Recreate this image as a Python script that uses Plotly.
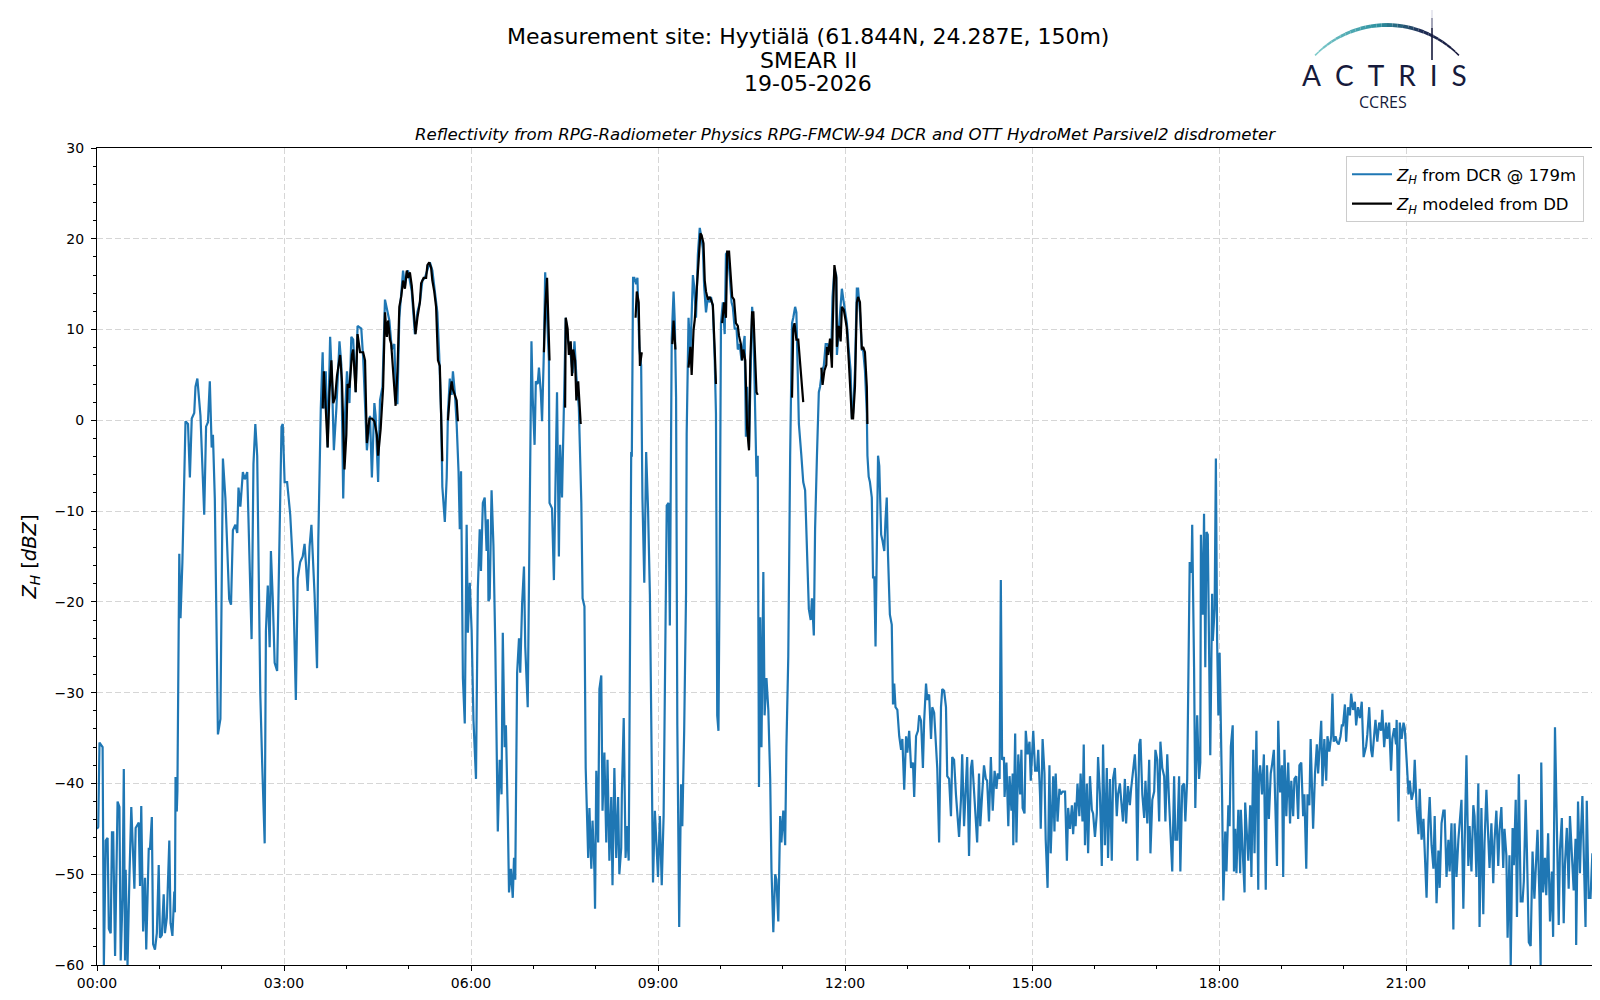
import math

import plotly.graph_objects as go

# Z_H from the cloud radar (DCR) at 179 m, hours of day vs dBZ, read per 3 h window
dcr_hours_00_03 = [
    0.00, 0.02, 0.04, 0.09, 0.11, 0.14, 0.17, 0.19, 0.22, 0.24,
    0.26, 0.29, 0.33, 0.36, 0.38, 0.41, 0.43, 0.45, 0.46, 0.49,
    0.52, 0.55, 0.60, 0.62, 0.67, 0.69, 0.71, 0.74, 0.77, 0.79,
    0.83, 0.85, 0.88, 0.90, 0.93, 0.96, 0.99, 1.01, 1.04, 1.07,
    1.09, 1.12, 1.16, 1.18, 1.21, 1.24, 1.25, 1.26, 1.28, 1.29,
    1.32, 1.34, 1.37, 1.42, 1.46, 1.49, 1.52, 1.56, 1.58, 1.61,
    1.66, 1.72, 1.75, 1.78, 1.81, 1.84, 1.86, 1.89, 1.94, 1.98,
    2.02, 2.06, 2.12, 2.15, 2.18, 2.22, 2.25, 2.27, 2.30, 2.34,
    2.37, 2.41, 2.43, 2.48, 2.51, 2.54, 2.57, 2.62, 2.65, 2.69,
    2.71, 2.74, 2.77, 2.79, 2.82, 2.85, 2.89, 2.91, 2.96, 2.98,
]
dcr_dbz_00_03 = [
    -45, -44.8, -35.5, -36, -60, -46.3, -46, -56, -56.5, -45.4,
    -45.4, -59, -42, -42.6, -59.5, -52.5, -38.4, -59.5, -49.5, -60,
    -50.4, -42.6, -51.6, -44.9, -44.3, -51.3, -42.5, -56.3, -50.4, -58.3,
    -47.2, -47.2, -43.7, -57.7, -58.3, -56.5, -49, -57, -56.7, -52.2,
    -56.5, -54.8, -46.3, -55.4, -56.8, -51.9, -54.2, -39.3, -43.1, -40.8,
    -14.7, -21.8, -15.6, -0.1, -0.4, -6.3, 0.2, 0.8, 3.7, 4.6,
    0.5, -10.4, -0.7, -0.2, 4.3, -3, -1.6, -8.6, -34.6, -32.9,
    -4.2, -8.6, -19.7, -20.3, -12.1, -11.5, -12.4, -7.4, -9.5, -5.7,
    -6.5, -5.7, -10.9, -24.1, -4.8, -0.4, -3.9, -30.2, -37.8, -46.6,
    -23.2, -18.2, -25, -14.4, -19.7, -26.7, -27.6, -20.9, -0.7, -0.4,
]

dcr_hours_03_06 = [
    3.01, 3.05, 3.10, 3.14, 3.19, 3.22, 3.26, 3.30, 3.33, 3.35,
    3.38, 3.41, 3.44, 3.46, 3.49, 3.53, 3.55, 3.59, 3.62, 3.64,
    3.67, 3.70, 3.74, 3.77, 3.80, 3.84, 3.89, 3.92, 3.95, 3.98,
    4.01, 4.05, 4.08, 4.11, 4.15, 4.18, 4.24, 4.27, 4.33, 4.35,
    4.38, 4.41, 4.45, 4.47, 4.51, 4.54, 4.58, 4.62, 4.66, 4.69,
    4.73, 4.77, 4.80, 4.82, 4.85, 4.88, 4.91, 4.94, 4.97, 4.99,
    5.05, 5.10, 5.14, 5.18, 5.22, 5.26, 5.30, 5.34, 5.38, 5.42,
    5.46, 5.49, 5.52, 5.54, 5.56, 5.58, 5.61, 5.63, 5.66, 5.69,
    5.71, 5.74, 5.77, 5.80, 5.82, 5.84, 5.87, 5.90, 5.93, 5.95,
    5.98,
]
dcr_dbz_03_06 = [
    -6.8, -6.8, -10.4, -15.6, -30.8, -17.4, -15.6, -15, -13.6, -15.6,
    -18.8, -13.9, -11.5, -14.6, -19.1, -27.3, -13.3, 1.3, 7.5, 1.3,
    5.4, -3, 9.2, 4.3, -3.3, 1.3, 8.7, 6.1, -8.6, 0.8,
    5.4, 1.9, 9.2, 8.9, 3.1, 10.4, 10.1, 6.9, -3.3, -1.6,
    0.5, -6.3, 1.9, 0.5, -6.8, 2.2, 3.7, 13.3, 11.9, 11,
    7.8, 8.4, 1.9, 1.9, 11.3, 14.2, 16.5, 14.8, 16.3, 16.5,
    14.2, 9.5, 11.9, 13, 15.4, 15.7, 16.5, 17.4, 16.5, 13.9,
    11.9, 7.2, 0.8, -7.3, -9.8, -11.2, -6.3, 0.8, 4.6, 2.8,
    5.4, 3.1, -0.4, -5.6, -12, -5.6, -28.4, -33.4, -11.5, -23.4,
    -17.9,
]

dcr_hours_06_09 = [
    6.01, 6.04, 6.08, 6.11, 6.14, 6.16, 6.19, 6.22, 6.25, 6.27,
    6.28, 6.30, 6.33, 6.36, 6.39, 6.43, 6.46, 6.49, 6.51, 6.54,
    6.56, 6.59, 6.61, 6.64, 6.67, 6.69, 6.71, 6.74, 6.77, 6.79,
    6.82, 6.85, 6.87, 6.91, 6.94, 6.97, 6.99, 7.02, 7.04, 7.07,
    7.09, 7.12, 7.14, 7.17, 7.19, 7.22, 7.25, 7.26, 7.30, 7.33,
    7.35, 7.38, 7.41, 7.43, 7.46, 7.49, 7.52, 7.55, 7.59, 7.63,
    7.66, 7.69, 7.73, 7.77, 7.79, 7.82, 7.84, 7.88, 7.90, 7.93,
    7.95, 7.98, 7.99, 8.01, 8.04, 8.06, 8.09, 8.11, 8.14, 8.17,
    8.19, 8.22, 8.25, 8.27, 8.30, 8.33, 8.36, 8.38, 8.41, 8.42,
    8.45, 8.48, 8.50, 8.53, 8.55, 8.57, 8.58, 8.60, 8.62, 8.65,
    8.67, 8.70, 8.73, 8.75, 8.78, 8.81, 8.84, 8.87, 8.90, 8.92,
    8.95, 8.98,
]
dcr_dbz_06_09 = [
    -23.1, -33.1, -39.5, -18.5, -12, -16.6, -9.1, -8.5, -14.4, -10.9,
    -19.9, -19.6, -7.7, -13.8, -24.9, -45.3, -37.4, -41.2, -23.4, -36,
    -33.6, -43.6, -52, -49.4, -52.6, -48.2, -50.6, -27.8, -24, -27.8,
    -20.2, -16.1, -24.9, -31.6, -10.3, 8.7, 2.5, -2.7, 4.3, 4,
    5.8, 3.1, -0.1, 7.8, 16.3, 11.9, 6.6, -9.1, -9.7, -17.6,
    -9.1, 3.1, -15, -2.7, -8.5, 1.1, 11.3, 9, 7.8, 5.2,
    8.7, 4.9, 1.4, -9.1, -19.6, -20.5, -38.3, -48.2, -42.7, -49.4,
    -44.1, -49.7, -53.8, -38.6, -46.5, -29.6, -28.1, -43, -36.6, -46.5,
    -37.4, -48.5, -41.5, -51.2, -38.3, -48.2, -41.5, -50, -47.1, -41.2,
    -32.8, -48.2, -44.7, -48.5, -27, -3.5, -4, 15.7, 15.7, 15,
    15.7, 8, 6, -8.5, -17.9, -3.5, -9.7, -19.2, -38.3, -50.9,
    -43, -47,
]

dcr_hours_09_12 = [
    9.00, 9.03, 9.06, 9.09, 9.11, 9.14, 9.17, 9.19, 9.22, 9.25,
    9.27, 9.29, 9.31, 9.32, 9.34, 9.37, 9.39, 9.42, 9.45, 9.46,
    9.49, 9.52, 9.54, 9.56, 9.58, 9.61, 9.64, 9.67, 9.69, 9.72,
    9.74, 9.77, 9.80, 9.83, 9.85, 9.88, 9.91, 9.93, 9.95, 9.97,
    9.99, 10.01, 10.04, 10.07, 10.09, 10.12, 10.15, 10.18, 10.20, 10.23,
    10.26, 10.28, 10.31, 10.34, 10.36, 10.39, 10.41, 10.43, 10.46, 10.48,
    10.51, 10.53, 10.55, 10.58, 10.60, 10.62, 10.64, 10.66, 10.69, 10.71,
    10.74, 10.77, 10.80, 10.82, 10.85, 10.88, 10.90, 10.93, 10.96, 10.98,
    11.01, 11.04, 11.06, 11.09, 11.12, 11.15, 11.17, 11.20, 11.22, 11.24,
    11.26, 11.30, 11.33, 11.36, 11.39, 11.42, 11.45, 11.47, 11.50, 11.52,
    11.55, 11.58, 11.60, 11.63, 11.66, 11.69, 11.72, 11.75, 11.78, 11.80,
    11.83, 11.86, 11.87, 11.90, 11.93, 11.95, 11.98,
]
dcr_dbz_09_12 = [
    -50.3, -43.6, -51.2, -43.6, -30.1, -9.4, -9.1, -22.6, 9, 14.2,
    10.7, 2.5, -33.6, -44.4, -55.8, -40.1, -44.7, -34.2, -19, -1.5,
    11.3, 7.2, 11.9, 16, 14.8, 11.3, 18.3, 21.2, 20.4, 18.9,
    14.8, 11.9, 13.6, 13, 13.6, 12.5, 6.6, 0.7, -32.5, -34.2,
    -15.6, 10.7, 13, 9.5, 18.3, 18.6, 16, 13, 12.5, 10.1,
    10.1, 7.8, 8.4, 6.6, 7.8, 9.3, -1.8, 3.7, -3, 4.9,
    12.5, 10.7, 4.3, -6.2, -3.9, -40.4, -21.7, -36, -16.7, -32.5,
    -28.4, -31.9, -39.5, -49.4, -56.4, -50, -50.6, -55.2, -43.6, -46.5,
    -43, -46.8, -36, -26, -3.9, 10.7, 11.3, 12.5, 11.9, 3.7,
    -0.4, -3.9, -6.8, -7.7, -14.4, -20.8, -22, -19.6, -23.7, -12,
    -3.9, 3.1, 3.7, 5.4, 6, 8.4, 8.4, 7.8, 7.8, 13.6,
    16.6, 16, 7.2, 10.1, 11.9, 14.5, 13,
]

dcr_hours_12_15 = [
    12.01, 12.03, 12.06, 12.09, 12.11, 12.13, 12.16, 12.19, 12.21, 12.24,
    12.27, 12.29, 12.32, 12.35, 12.36, 12.38, 12.40, 12.43, 12.45, 12.47,
    12.49, 12.51, 12.53, 12.55, 12.58, 12.60, 12.63, 12.65, 12.67, 12.69,
    12.72, 12.75, 12.77, 12.79, 12.81, 12.84, 12.87, 12.90, 12.92, 12.95,
    12.98, 13.00, 13.03, 13.06, 13.09, 13.11, 13.14, 13.17, 13.19, 13.22,
    13.25, 13.27, 13.30, 13.32, 13.35, 13.38, 13.40, 13.43, 13.46, 13.48,
    13.51, 13.54, 13.56, 13.59, 13.62, 13.64, 13.67, 13.70, 13.72, 13.75,
    13.78, 13.80, 13.83, 13.86, 13.88, 13.91, 13.94, 13.96, 13.99, 14.02,
    14.04, 14.07, 14.10, 14.12, 14.15, 14.17, 14.20, 14.23, 14.26, 14.28,
    14.31, 14.34, 14.37, 14.40, 14.43, 14.45, 14.48, 14.50, 14.52, 14.55,
    14.56, 14.59, 14.62, 14.64, 14.67, 14.69, 14.70, 14.73, 14.75, 14.78,
    14.81, 14.83, 14.85, 14.88, 14.90, 14.93, 14.96, 14.98,
]
dcr_dbz_12_15 = [
    11.3, 10.7, 7.8, 5.5, 0.2, 0.8, 5.5, 14.5, 14.5, 11.9,
    7.8, 7.8, 5.5, 0.8, -3.9, -6.2, -6.8, -8.5, -17.3, -17.3,
    -24.9, -14.4, -3.9, -5, -12.6, -13.2, -14.4, -10.9, -8.5, -14.9,
    -21.4, -22.5, -31.3, -29, -31.6, -31.9, -34.8, -36.3, -35.1, -40.7,
    -34.8, -36.6, -34.2, -38.3, -37.7, -41.5, -34.8, -34.2, -32.5, -33.1,
    -38.3, -33.1, -29, -30.8, -30.2, -35.1, -31.6, -32.2, -36.6, -38.3,
    -46.5, -31.6, -29.6, -29.8, -31.6, -39.2, -39.5, -43.6, -37.1, -37.4,
    -41.2, -43.6, -45.9, -41.8, -36.8, -44.7, -40.6, -37.1, -48, -38.3,
    -37.4, -40.6, -44.7, -46.5, -38.9, -44.7, -41.2, -38, -39.5, -39.7,
    -44.2, -37.1, -43, -38.6, -40.6, -38.9, -39.5, -17.6, -37.4, -37.1,
    -41.5, -37.7, -44.7, -39.2, -43, -38.9, -46.8, -34.5, -46.5, -36.8,
    -41.2, -36.3, -42.7, -43.3, -34.2, -36.8, -35.4, -39.7,
]

dcr_hours_15_18 = [
    15.02, 15.05, 15.08, 15.10, 15.13, 15.14, 15.17, 15.20, 15.22, 15.25,
    15.28, 15.30, 15.34, 15.36, 15.38, 15.41, 15.44, 15.46, 15.49, 15.53,
    15.56, 15.58, 15.61, 15.64, 15.66, 15.69, 15.70, 15.73, 15.76, 15.78,
    15.81, 15.83, 15.85, 15.88, 15.90, 15.93, 15.96, 15.98, 16.01, 16.04,
    16.06, 16.09, 16.12, 16.14, 16.17, 16.20, 16.22, 16.25, 16.28, 16.30,
    16.33, 16.36, 16.38, 16.41, 16.43, 16.46, 16.49, 16.51, 16.54, 16.57,
    16.59, 16.62, 16.65, 16.67, 16.69, 16.72, 16.74, 16.77, 16.80, 16.82,
    16.85, 16.88, 16.90, 16.93, 16.96, 16.98, 17.01, 17.04, 17.06, 17.09,
    17.12, 17.14, 17.17, 17.20, 17.22, 17.25, 17.28, 17.30, 17.33, 17.36,
    17.38, 17.41, 17.44, 17.46, 17.49, 17.51, 17.53, 17.56, 17.57, 17.60,
    17.62, 17.65, 17.68, 17.70, 17.71, 17.74, 17.76, 17.78, 17.80, 17.82,
    17.84, 17.86, 17.89, 17.90, 17.93, 17.95, 17.97, 17.99,
]
dcr_dbz_15_18 = [
    -34.2, -38.6, -38.6, -36.3, -41.5, -45, -35.1, -38.9, -46.2, -51.5,
    -38, -47.7, -39.2, -45.3, -38.9, -44.2, -40.6, -41.2, -40.9, -40.9,
    -48.5, -42.7, -45, -42.4, -45.6, -42.1, -44.7, -40, -43.6, -38.9,
    -44.2, -35.7, -46.8, -40, -47.7, -39.2, -42.9, -43.3, -45.9, -43.3,
    -37.1, -41.2, -49.1, -35.7, -46.8, -38.3, -48.2, -39.5, -48.5, -39.5,
    -38.3, -43.6, -41.2, -40, -41.8, -44.2, -39.5, -44.4, -40.3, -42.4,
    -40.6, -38.3, -36.8, -39.5, -48.5, -35.7, -35.1, -41.2, -43.8, -39.7,
    -44.4, -37.4, -47.7, -41.8, -40.9, -36.3, -37.4, -44.2, -35.4, -38.3,
    -39.2, -44.2, -36.8, -42.1, -44.7, -49.7, -39.2, -46.2, -46.2, -39.2,
    -49.7, -40.3, -40, -44.2, -39.5, -30.1, -15.6, -16.8, -11.5, -27.2,
    -42.7, -32.5, -39.5, -37.7, -12.6, -21.4, -10.3, -27.2, -12.3, -12.6,
    -24.9, -36.9, -19.1, -24.3, -20.8, -4.2, -24.3, -32.5,
]

dcr_hours_18_21 = [
    18.01, 18.03, 18.05, 18.07, 18.10, 18.12, 18.15, 18.17, 18.19, 18.22,
    18.24, 18.26, 18.28, 18.31, 18.34, 18.35, 18.38, 18.41, 18.42, 18.45,
    18.47, 18.50, 18.52, 18.55, 18.57, 18.60, 18.63, 18.64, 18.66, 18.69,
    18.72, 18.75, 18.77, 18.80, 18.83, 18.85, 18.88, 18.90, 18.93, 18.95,
    18.98, 19.01, 19.03, 19.05, 19.08, 19.11, 19.14, 19.16, 19.19, 19.21,
    19.24, 19.27, 19.29, 19.32, 19.35, 19.37, 19.40, 19.42, 19.45, 19.47,
    19.49, 19.51, 19.54, 19.57, 19.59, 19.62, 19.64, 19.66, 19.69, 19.72,
    19.74, 19.77, 19.80, 19.82, 19.84, 19.87, 19.89, 19.92, 19.95, 19.97,
    19.99, 20.02, 20.04, 20.07, 20.10, 20.12, 20.15, 20.18, 20.20, 20.23,
    20.26, 20.29, 20.32, 20.36, 20.38, 20.41, 20.44, 20.46, 20.49, 20.51,
    20.54, 20.57, 20.60, 20.62, 20.65, 20.68, 20.70, 20.73, 20.76, 20.78,
    20.81, 20.84, 20.85, 20.88, 20.90, 20.93, 20.96, 20.98,
]
dcr_dbz_18_21 = [
    -25.6, -33.1, -41.8, -52.9, -45.3, -49.7, -42.4, -44.7, -35.9, -33.6,
    -49.7, -45, -49.9, -42.9, -49.9, -42.9, -48.2, -52, -42.1, -45.3,
    -48.5, -42.4, -50.3, -36.3, -47.7, -34.2, -51.7, -39.2, -38, -41.2,
    -36.8, -51.7, -38, -43.9, -38.9, -38, -36.3, -41.5, -49.1, -33.1,
    -41, -38, -50.3, -36.3, -43.6, -37.7, -44.4, -39.7, -43.6, -39.5,
    -39.2, -43.9, -38, -37.7, -43.6, -41.2, -49.4, -41.2, -42.4, -35.1,
    -39.5, -45, -38.9, -35.7, -38.9, -34.8, -33.1, -40.3, -35.1, -39.7,
    -34.8, -36.5, -34.8, -30.1, -35.4, -34.8, -35.4, -35.7, -34.8, -33.6,
    -33.6, -31.3, -35.4, -31.6, -32.5, -30.1, -31.9, -31, -33.6, -31.6,
    -32.8, -31, -37.1, -35.9, -34.6, -31.6, -36.3, -37.1, -33.9, -33,
    -35.4, -33.3, -34.2, -31.9, -36, -33.3, -35.1, -33.3, -38.6, -35.1,
    -33.9, -35.7, -33, -44.2, -33.3, -35.1, -33.3, -33.9,
]

dcr_hours_21_24 = [
    21.01, 21.04, 21.06, 21.09, 21.12, 21.14, 21.17, 21.20, 21.22, 21.25,
    21.28, 21.30, 21.33, 21.36, 21.38, 21.41, 21.44, 21.46, 21.49, 21.52,
    21.54, 21.57, 21.60, 21.62, 21.65, 21.68, 21.70, 21.73, 21.76, 21.78,
    21.81, 21.84, 21.86, 21.89, 21.92, 21.94, 21.97, 22.00, 22.02, 22.05,
    22.08, 22.10, 22.13, 22.16, 22.18, 22.21, 22.24, 22.26, 22.29, 22.32,
    22.34, 22.37, 22.40, 22.42, 22.45, 22.48, 22.50, 22.53, 22.56, 22.58,
    22.61, 22.63, 22.66, 22.68, 22.71, 22.73, 22.76, 22.78, 22.81, 22.84,
    22.87, 22.89, 22.92, 22.94, 22.97, 23.00, 23.03, 23.06, 23.09, 23.11,
    23.14, 23.16, 23.17, 23.20, 23.23, 23.25, 23.28, 23.31, 23.34, 23.36,
    23.39, 23.42, 23.45, 23.47, 23.50, 23.53, 23.55, 23.58, 23.61, 23.63,
    23.66, 23.69, 23.72, 23.73, 23.76, 23.79, 23.81, 23.83, 23.86, 23.88,
    23.90, 23.93, 23.96, 23.99,
]
dcr_dbz_21_24 = [
    -37.4, -41.2, -39.7, -41.8, -40.9, -37.4, -42.7, -45.6, -40.6, -46.2,
    -43.9, -47.1, -52.6, -44.2, -41.5, -46.8, -49.4, -43.6, -53.2, -47.4,
    -51.5, -44.4, -43, -43, -50.3, -46.2, -49.7, -44.4, -56.1, -44.4,
    -50.3, -46.2, -44.4, -41.8, -53.8, -47.4, -36.9, -49.1, -44.7, -49.7,
    -42.4, -43.6, -50.3, -40, -55.8, -42.7, -54.4, -46.5, -40.7, -46,
    -49.3, -44.4, -51, -46.3, -43, -49.1, -45.2, -42.6, -49.3, -45,
    -47.9, -57, -47.9, -60, -44.9, -49, -41.8, -54.7, -39, -53,
    -53, -50.8, -41.8, -47.5, -57.5, -57.9, -47.5, -52.7, -47.1, -45.1,
    -52.3, -60, -37.7, -52, -48.2, -52.3, -45.5, -55.2, -49.7, -56.9,
    -33.8, -47.1, -55.6, -47.3, -43.8, -55.4, -48.9, -44.9, -51.6, -43.6,
    -47.5, -51.8, -46.1, -57.8, -42, -49.9, -44.9, -41.4, -50.1, -55.8,
    -41.9, -52.6, -52.6, -47.7,
]

# Z_H modeled from the disdrometer (DD), only available during rain
dd_hours_a = [
    3.62, 3.64, 3.67, 3.70, 3.73, 3.76, 3.79, 3.82, 3.85, 3.87,
    3.90, 3.93, 3.97, 4.00, 4.02, 4.05, 4.09, 4.11, 4.15, 4.18,
    4.22, 4.27, 4.30, 4.33, 4.37, 4.41, 4.45, 4.49, 4.51, 4.55,
    4.59, 4.62, 4.65, 4.67, 4.70, 4.72, 4.75, 4.79, 4.82, 4.85,
    4.88, 4.91, 4.94, 4.97, 4.99, 5.02, 5.05, 5.09, 5.11, 5.14,
    5.18, 5.20, 5.24, 5.28, 5.30, 5.33, 5.36, 5.38, 5.41, 5.44,
    5.47, 5.50, 5.52, 5.54,
]
dd_dbz_a = [
    1.3, 5.4, 1.3, -3, 3.1, 6.6, 1.9, 2.5, 4.9, 6,
    7.2, 4.3, -5.4, -1.6, 4, 3.6, 7.2, 7.8, 3.1, 9.5,
    7.5, 7.5, 6.6, -2.5, 0.2, 0.2, -0.1, -1.6, -3.9, -1,
    3.6, 11.9, 9.2, 11, 8.9, 8.4, 4.9, 1.6, 5.4, 12.5,
    13.6, 15.4, 14.5, 16.5, 15.7, 16.3, 14.8, 11, 9.5, 11.3,
    13, 15.1, 15.7, 15.7, 17.1, 17.4, 16.8, 15.4, 14.2, 12.5,
    6.6, 6, 0.8, -4.5,
]
dd_hours_b = [5.63, 5.66, 5.69, 5.71, 5.74, 5.77, 5.79]
dd_dbz_b = [0, 2.8, 4.3, 3.4, 2.8, 2.2, -0.1]
dd_hours_c = [7.17, 7.19, 7.22, 7.24, 7.26]
dd_dbz_c = [7.5, 12.3, 15.7, 11.9, 6.6]
dd_hours_d = [7.51, 7.52, 7.55, 7.57, 7.60, 7.62, 7.64, 7.67, 7.69, 7.72, 7.76]
dd_dbz_d = [1.4, 11.3, 10.1, 7.2, 8.7, 4.9, 7.8, 6.6, 2.2, 4.3, -0.4]
dd_hours_e = [8.64, 8.66, 8.69, 8.71, 8.74]
dd_dbz_e = [11.3, 14.2, 13, 6, 7.5]
dd_hours_f = [9.23, 9.25, 9.28]
dd_dbz_f = [8.4, 11, 7.8]
dd_hours_g = [
    9.49, 9.52, 9.54, 9.57, 9.59, 9.62, 9.64, 9.68, 9.70,
    9.73, 9.75, 9.77, 9.80, 9.83, 9.85, 9.88, 9.91, 9.93,
]
dd_dbz_g = [
    5.8, 8.1, 5, 9.9, 11.1, 14, 16.3, 20.6, 20.4,
    19.5, 15.4, 14.2, 13.3, 13.6, 13.3, 12.7, 7.8, 4,
]
dd_hours_h = [
    10.03, 10.06, 10.09, 10.11, 10.14, 10.17, 10.19, 10.22, 10.25, 10.28,
    10.30, 10.33, 10.35, 10.37, 10.40, 10.43, 10.46, 10.48, 10.51, 10.53,
    10.55, 10.58, 10.60,
]
dd_dbz_h = [
    10.7, 13, 11.3, 18.6, 18.6, 15.4, 13.6, 13.3, 10.7, 10.4,
    9.3, 8.4, 6.6, 7.8, 6.6, -0.9, -3.3, 6.6, 11.9, 11.9,
    7.8, 3.1, 2.8,
]
dd_hours_i = [11.15, 11.17, 11.19, 11.22, 11.25, 11.29, 11.33]
dd_dbz_i = [2.5, 10.1, 10.7, 8.9, 8.9, 5.5, 2]
dd_hours_j = [
    11.62, 11.64, 11.67, 11.70, 11.71, 11.73, 11.76, 11.79, 11.80, 11.83,
    11.86, 11.87, 11.90, 11.93, 11.95, 11.98, 12.01, 12.03, 12.06, 12.09,
    12.11, 12.13, 12.16, 12.19, 12.21, 12.24, 12.27, 12.29, 12.32, 12.35,
    12.36,
]
dd_dbz_j = [
    5.8, 3.9, 5.5, 6.1, 8.1, 7.2, 9, 5.8, 9.6, 17.1,
    15.7, 8.1, 10.4, 8.7, 12.5, 12.2, 11, 10.1, 6.6, 3.1,
    0.2, 0.2, 3.7, 13, 13.6, 13, 7.8, 8.1, 7.5, 3.7,
    -0.4,
]

tick_hours = [0, 3, 6, 9, 12, 15, 18, 21]
tick_labels = ["00:00", "03:00", "06:00", "09:00", "12:00", "15:00", "18:00", "21:00"]

dcr_hours = (dcr_hours_00_03 + dcr_hours_03_06 + dcr_hours_06_09 + dcr_hours_09_12
             + dcr_hours_12_15 + dcr_hours_15_18 + dcr_hours_18_21 + dcr_hours_21_24)
dcr_dbz = (dcr_dbz_00_03 + dcr_dbz_03_06 + dcr_dbz_06_09 + dcr_dbz_09_12
           + dcr_dbz_12_15 + dcr_dbz_15_18 + dcr_dbz_18_21 + dcr_dbz_21_24)

dd_hours, dd_dbz = [], []
for hh, zz in [(dd_hours_a, dd_dbz_a), (dd_hours_b, dd_dbz_b), (dd_hours_c, dd_dbz_c),
               (dd_hours_d, dd_dbz_d), (dd_hours_e, dd_dbz_e), (dd_hours_f, dd_dbz_f),
               (dd_hours_g, dd_dbz_g), (dd_hours_h, dd_dbz_h), (dd_hours_i, dd_dbz_i),
               (dd_hours_j, dd_dbz_j)]:
    dd_hours += hh + [None]
    dd_dbz += zz + [None]

# figure geometry (pixels) - margins put the axes box where the original has it
W, H = 1600, 1000
ML, MR, MT, MB = 89, 15, 140, 43
PW, PH = W - ML - MR, H - MT - MB


def px(x):
    return (x - ML) / PW


def py(y):
    return (H - MB - y) / PH


FONT = "DejaVu Sans"
NAVY = "#161a3b"

fig = go.Figure()
fig.add_trace(go.Scatter(
    x=dcr_hours, y=dcr_dbz, mode="lines", legendgroup="dcr",
    line=dict(color="#1f77b4", width=2.2),
    name="<i>Z</i><sub><i>H</i></sub> from DCR @ 179m",
))
fig.add_trace(go.Scatter(
    x=dd_hours, y=dd_dbz, mode="lines", connectgaps=False, legendgroup="dd",
    line=dict(color="black", width=2.2),
    name="<i>Z</i><sub><i>H</i></sub> modeled from DD",
))

axis_style = dict(
    showline=True, linecolor="black", linewidth=1.1, mirror=True,
    ticks="outside", ticklen=5, tickwidth=1.1, tickcolor="black",
    showgrid=True, gridcolor="#d6d6d6", gridwidth=1, griddash="6px,3px",
    zeroline=False, tickfont=dict(family=FONT, size=14, color="black"),
)

fig.update_xaxes(
    range=[0, 24], tickmode="array", tickvals=tick_hours, ticktext=tick_labels,
    minor=dict(tickmode="linear", tick0=0, dtick=1, ticks="outside", ticklen=3,
               tickcolor="black", showgrid=False),
    **axis_style,
)
fig.update_yaxes(
    range=[-60, 30], tickmode="linear", tick0=0, dtick=10, ticklabelstandoff=4,
    minor=dict(tickmode="linear", tick0=0, dtick=2, ticks="outside", ticklen=3,
               tickcolor="black", showgrid=False),
    title=dict(text="<i>Z</i><sub><i>H</i></sub> [<i>dBZ</i>]",
               font=dict(family=FONT, size=19.5, color="black"), standoff=12),
    **axis_style,
)

annotations = [
    dict(text="Measurement site: Hyytiälä (61.844N, 24.287E, 150m)", x=px(800), y=py(29)),
    dict(text="SMEAR II", x=px(800), y=py(52)),
    dict(text="19-05-2026", x=px(800), y=py(75)),
]
for a in annotations:
    a.update(xref="paper", yref="paper", showarrow=False, xanchor="center", yanchor="middle",
             font=dict(family=FONT, size=22, color="black"))

annotations.append(dict(
    text="<i>Reflectivity from RPG-Radiometer Physics RPG-FMCW-94 DCR and OTT HydroMet Parsivel2 disdrometer</i>",
    x=0.5, y=py(126), xref="paper", yref="paper", showarrow=False,
    xanchor="center", yanchor="middle", font=dict(family=FONT, size=16.6, color="black"),
))

# ACTRIS / CCRES logo
annotations.append(dict(
    text="A\u2002C\u2002T\u2002R\u2002I\u2002S", x=px(1376), y=py(67), xref="paper", yref="paper",
    showarrow=False, xanchor="center", yanchor="middle",
    font=dict(family="Lato", size=28, color=NAVY),
))
annotations.append(dict(
    text="CCRES", x=px(1375), y=py(94), xref="paper", yref="paper",
    showarrow=False, xanchor="center", yanchor="middle",
    font=dict(family="Open Sans", size=16, color=NAVY),
))

shapes = []
cx, cy, R = 1379, 117.3, 100.3
t0, t1 = -0.80, 0.80
n_seg = 30
stops = [(0.0, (130, 205, 205)), (0.45, (45, 145, 160)), (0.72, (32, 45, 85)), (1.0, (22, 24, 58))]


def arc_color(f):
    for (fa, ca), (fb, cb) in zip(stops[:-1], stops[1:]):
        if fa <= f <= fb:
            k = (f - fa) / (fb - fa)
            c = [round(ca[i] + k * (cb[i] - ca[i])) for i in range(3)]
            return "rgb({},{},{})".format(*c)
    return "rgb(22,24,58)"


for i in range(n_seg):
    fa, fb = i / n_seg, (i + 1) / n_seg
    ta, tb = t0 + fa * (t1 - t0), t0 + fb * (t1 - t0)
    xa, ya = cx + R * math.sin(ta), cy - R * math.cos(ta)
    xb, yb = cx + R * math.sin(tb), cy - R * math.cos(tb)
    fm = (fa + fb) / 2
    shapes.append(dict(
        type="line", xref="paper", yref="paper",
        x0=px(xa), y0=py(ya), x1=px(xb), y1=py(yb),
        line=dict(color=arc_color(fm), width=1.4 + 2.4 * math.sin(math.pi * fm)),
    ))

mast = [(2, 10, "rgb(225,226,235)"), (10, 20, "rgb(140,142,165)"), (20, 52, NAVY)]
for ya, yb, col in mast:
    shapes.append(dict(type="line", xref="paper", yref="paper",
                       x0=px(1424), y0=py(ya), x1=px(1424), y1=py(yb),
                       line=dict(color=col, width=1.6)))

fig.update_layout(
    width=W, height=H,
    margin=dict(l=ML, r=MR, t=MT, b=MB),
    paper_bgcolor="white", plot_bgcolor="white",
    font=dict(family=FONT, color="black"),
    showlegend=True,
    legend=dict(
        x=px(1576), y=py(148), xanchor="right", yanchor="top",
        bgcolor="rgba(255,255,255,0.8)", bordercolor="#cccccc", borderwidth=1,
        font=dict(family=FONT, size=16.5, color="black"), itemwidth=40,
        tracegroupgap=5,
    ),
    annotations=annotations,
    shapes=shapes,
)

fig.write_html("out.html")
